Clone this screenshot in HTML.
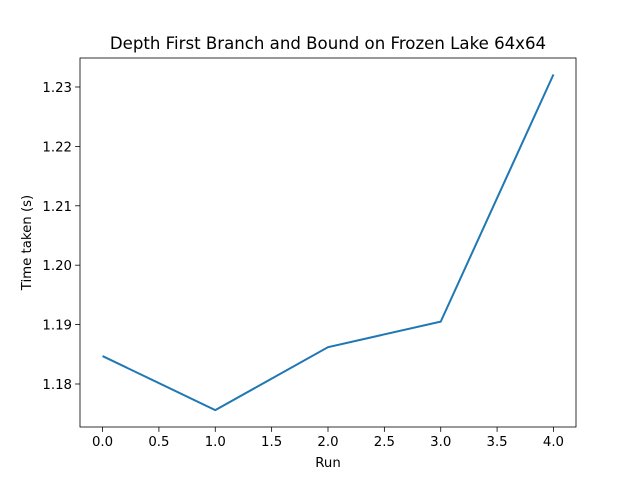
<!DOCTYPE html>
<html><head><meta charset="utf-8"><style>body{margin:0;background:#fff}svg{display:block;font-family:"DejaVu Sans","Liberation Sans",sans-serif}</style></head>
<body>
<svg id="c" width="640" height="480"></svg>
<script>
const runs=[0,1,2,3,4];
const times=[1.1847,1.1756,1.1862,1.1905,1.2321];
const xTicks=[0,0.5,1,1.5,2,2.5,3,3.5,4];
const xTickLabels=["0.0","0.5","1.0","1.5","2.0","2.5","3.0","3.5","4.0"];
const yTicks=[1.18,1.19,1.20,1.21,1.22,1.23];
const yTickLabels=["1.18","1.19","1.20","1.21","1.22","1.23"];
const L=80,R=576,T=58,B=427;
const xmin=-0.2,xmax=4.2,ymin=1.17276,ymax=1.23488;
function sx(v){return L+(v-xmin)/(xmax-xmin)*(R-L);}
function sy(v){return B-(v-ymin)/(ymax-ymin)*(B-T);}
const svg=document.getElementById('c');const NS="http://www.w3.org/2000/svg";
function mk(t,a,txt){const e=document.createElementNS(NS,t);for(const k in a)e.setAttribute(k,a[k]);if(txt!==undefined)e.textContent=txt;svg.appendChild(e);return e;}
let e;
e=mk('rect',{x:L,y:T,width:R-L,height:B-T,fill:'#fff',stroke:'#000','stroke-width':0.8});


xTicks.forEach((v,i)=>{const x=sx(v);
e=mk('line',{x1:x,x2:x,y1:B,y2:B+4.9,stroke:'#000','stroke-width':0.8});


e=mk('text',{x:x,y:B+19,'font-size':13.3,'text-anchor':'middle'},xTickLabels[i]);

});
yTicks.forEach((v,i)=>{const y=sy(v);
e=mk('line',{x1:L-4.9,x2:L,y1:y,y2:y,stroke:'#000','stroke-width':0.8});


e=mk('text',{x:L-8,y:y+5,'font-size':13.3,'text-anchor':'end'},yTickLabels[i]);

});
e=mk('polyline',{points:runs.map((r,i)=>sx(r)+','+sy(times[i])).join(' '),fill:'none',stroke:'#1f77b4','stroke-width':2});


e=mk('text',{x:(L+R)/2,y:467,'font-size':13.3,'text-anchor':'middle'},'Run');


e=mk('text',{x:31,y:(T+B)/2,'font-size':13.3,'text-anchor':'middle',transform:'rotate(-90 31 '+((T+B)/2)+')'},'Time taken (s)');


e=mk('text',{x:(L+R)/2,y:49,'font-size':16.6,'text-anchor':'middle'},'Depth First Branch and Bound on Frozen Lake 64x64');


</script>
</body></html>
